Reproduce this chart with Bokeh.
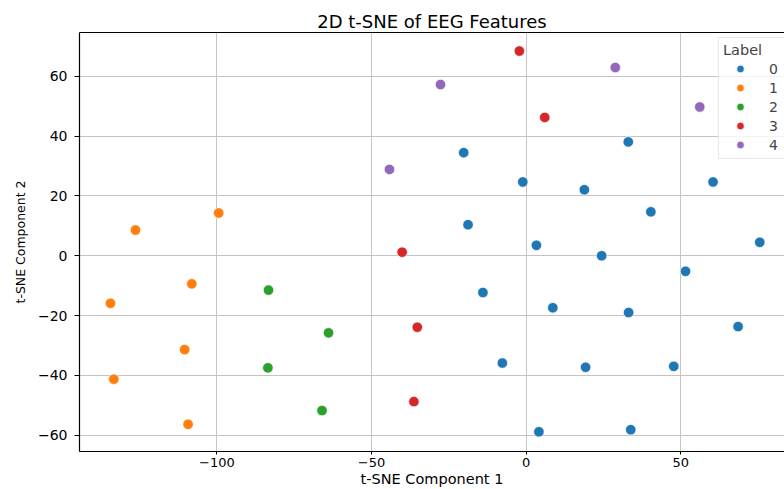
from bokeh.plotting import figure
from bokeh.models import ColumnDataSource, Range1d, LinearAxis, FixedTicker, Legend, LegendItem
from bokeh.embed import file_html
from bokeh.resources import INLINE

# ---- data ----
labels = ["0", "1", "2", "3", "4"]
colors = ["#1f77b4", "#ff7f0e", "#2ca02c", "#d62728", "#9467bd"]

label0_x = [-20.2, -1.1, 18.8, 33.0, 60.4, -18.8, 40.3, 3.3, 24.4, 75.5,
            51.5, -14.0, 8.6, 33.1, 68.5, -7.7, 19.2, 47.7, 4.1, 33.8]
label0_y = [34.5, 24.7, 22.1, 38.1, 24.7, 10.4, 14.7, 3.5, 0.0, 4.5,
            -5.2, -12.3, -17.4, -19.0, -23.7, -35.9, -37.3, -37.0, -58.9, -58.2]
label1_x = [-99.4, -126.3, -108.1, -134.4, -110.4, -133.3, -109.3]
label1_y = [14.3, 8.6, -9.4, -15.9, -31.4, -41.3, -56.4]
label2_x = [-83.3, -63.9, -83.5, -66.0]
label2_y = [-11.5, -25.8, -37.5, -51.8]
label3_x = [-2.2, 6.0, -40.1, -35.2, -36.3]
label3_y = [68.5, 46.3, 1.2, -23.9, -48.8]
label4_x = [-44.2, -27.7, 28.8, 56.1]
label4_y = [28.9, 57.3, 63.0, 49.8]

x_ticks = [-100, -50, 0, 50]
y_ticks = [-60, -40, -20, 0, 20, 40, 60]
x_limits = (-144.4, 83.5)
y_limits = (-65.5, 74.7)

series_x = [label0_x, label1_x, label2_x, label3_x, label4_x]
series_y = [label0_y, label1_y, label2_y, label3_y, label4_y]

FONT = "DejaVu Sans"

p = figure(width=784, height=489, output_backend="svg", toolbar_location=None,
           x_range=Range1d(*x_limits), y_range=Range1d(*y_limits),
           min_border_left=79, min_border_top=32, min_border_right=0, min_border_bottom=0)

p.title.text = "2D t-SNE of EEG Features"
p.title.text_font = FONT
p.title.text_font_size = "18px"
p.title.text_font_style = "normal"
p.title.align = "center"
p.title.offset = 4
p.title.standoff = 2
p.title.text_color = "black"

p.outline_line_color = None
p.background_fill_color = "white"
p.border_fill_color = "white"

# axes
p.xaxis.ticker = FixedTicker(ticks=x_ticks)
p.yaxis.ticker = FixedTicker(ticks=y_ticks)
p.xaxis.major_label_overrides = {t: (str(t).replace("-", "\u2212")) for t in x_ticks}
p.yaxis.major_label_overrides = {t: (str(t).replace("-", "\u2212")) for t in y_ticks}
p.xaxis.axis_label = "t-SNE Component 1"
p.yaxis.axis_label = "t-SNE Component 2"
for ax in (p.xaxis[0], p.yaxis[0]):
    ax.axis_line_color = "black"
    ax.axis_line_width = 1.2
    ax.major_tick_line_color = "black"
    ax.minor_tick_line_color = None
    ax.major_tick_in = 0
    ax.major_label_text_font = FONT
    ax.major_label_text_color = "black"
    ax.axis_label_text_font = FONT
    ax.axis_label_text_font_style = "normal"
    ax.axis_label_text_color = "black"

p.xaxis.major_tick_out = 3
p.xaxis.major_label_standoff = 3
p.xaxis.major_label_text_font_size = "13px"
p.xaxis.axis_label_standoff = 1
p.xaxis.axis_label_text_font_size = "14.5px"

p.yaxis.major_tick_out = 5
p.yaxis.major_label_standoff = 7
p.yaxis.major_label_text_font_size = "14px"
p.yaxis.axis_label_standoff = 7
p.yaxis.axis_label_text_font_size = "12.5px"

# top spine
top = LinearAxis(ticker=FixedTicker(ticks=[]), major_tick_out=0, major_tick_in=0,
                 minor_tick_out=0, minor_tick_in=0, major_label_standoff=0,
                 major_label_text_font_size="0px", axis_line_color="black",
                 axis_line_width=1.2)
p.add_layout(top, "above")

p.xgrid.grid_line_color = "#c4c4c4"
p.ygrid.grid_line_color = "#c4c4c4"
p.xgrid.grid_line_width = 1
p.ygrid.grid_line_width = 1

items = []
for lab, col, xs, ys in zip(labels, colors, series_x, series_y):
    src = ColumnDataSource(dict(x=xs, y=ys))
    r = p.scatter("x", "y", source=src, size=10.5, fill_color=col,
                  line_color="white", line_width=0.7, marker="circle")
    items.append(LegendItem(label=lab, renderers=[r]))

legend = Legend(items=items, title="Label", location=(639, 292),
                title_text_font=FONT, title_text_font_size="14.5px",
                title_text_font_style="normal", title_standoff=1,
                label_text_font=FONT, label_text_font_size="14px",
                glyph_width=34, glyph_height=19, label_height=19,
                label_standoff=12, padding=4, spacing=0, margin=0,
                border_line_color="#d0d0d0", border_line_width=1,
                background_fill_alpha=0.8)
p.add_layout(legend, "center")

open("out.html", "w").write(file_html(p, INLINE))
